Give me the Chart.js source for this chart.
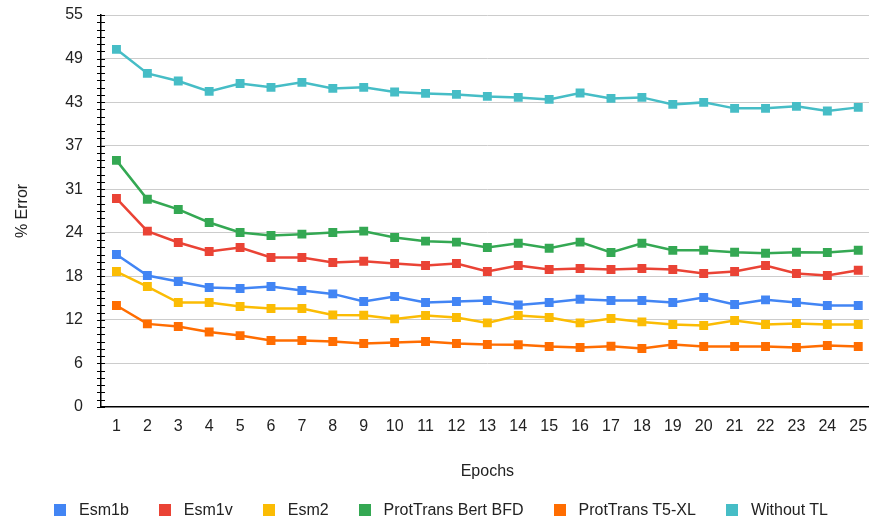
<!DOCTYPE html>
<html>
<head>
<meta charset="utf-8">
<script src="https://cdn.jsdelivr.net/npm/chart.js@4.4.1/dist/chart.umd.min.js"></script>
<style>
  html, body { margin: 0; padding: 0; background: #fff; overflow: hidden; width: 869px; height: 523px; }
  #wrap { position: relative; width: 880px; height: 523px; }
  #legend { position: absolute; left: 54px; top: 500px; display: flex; align-items: center;
            font-family: "Liberation Sans", Arial, sans-serif; font-size: 16px; line-height: 19px; color: #222; white-space: nowrap; }
  .item { display: flex; align-items: center; margin-right: 30px; }
  .sw { width: 12px; height: 12px; margin-right: 13px; }
</style>
</head>
<body>
<div id="wrap">
  <canvas id="c" width="880" height="523"></canvas>
  <div id="legend"></div>
</div>
<script>
const epochs = ['1','2','3','4','5','6','7','8','9','10','11','12','13','14','15','16','17','18','19','20','21','22','23','24','25'];
const yTickLabels = ['0','6','12','18','24','31','37','43','49','55'];
const seriesNames = ['Esm1b','Esm1v','Esm2','ProtTrans Bert BFD','ProtTrans T5-XL','Without TL'];
const seriesColors = ['#4285F4','#EA4335','#FBBC04','#34A853','#FF6D01','#46BDC6'];

const esm1b = [21.4, 18.45, 17.6, 16.76, 16.62, 16.9, 16.34, 15.87, 14.8, 15.5, 14.66, 14.8, 14.94, 14.32, 14.66, 15.12, 14.94, 14.94, 14.66, 15.36, 14.38, 15.03, 14.66, 14.24, 14.24];
const esm1v = [29.26, 24.67, 23.08, 21.82, 22.38, 20.98, 20.98, 20.27, 20.46, 20.13, 19.85, 20.13, 19.01, 19.85, 19.29, 19.43, 19.29, 19.43, 19.29, 18.73, 19.01, 19.85, 18.73, 18.45, 19.19];
const esm2 = [19.01, 16.9, 14.66, 14.66, 14.1, 13.82, 13.82, 12.92, 12.88, 12.36, 12.83, 12.55, 11.8, 12.83, 12.55, 11.8, 12.41, 11.94, 11.57, 11.43, 12.13, 11.57, 11.71, 11.57, 11.57];
const protBert = [34.6, 29.14, 27.72, 25.89, 24.48, 24.06, 24.25, 24.48, 24.67, 23.78, 23.27, 23.13, 22.38, 22.98, 22.28, 23.13, 21.68, 22.98, 21.98, 22.0, 21.72, 21.58, 21.72, 21.68, 22.0];
const protT5 = [14.24, 11.66, 11.29, 10.53, 10.02, 9.32, 9.32, 9.18, 8.9, 9.04, 9.18, 8.9, 8.76, 8.74, 8.48, 8.34, 8.52, 8.2, 8.78, 8.48, 8.48, 8.48, 8.34, 8.62, 8.48];
const withoutTL = [50.18, 46.81, 45.73, 44.28, 45.4, 44.85, 45.55, 44.7, 44.85, 44.19, 44.0, 43.86, 43.58, 43.44, 43.16, 44.05, 43.3, 43.44, 42.46, 42.74, 41.9, 41.9, 42.18, 41.52, 42.04];

const seriesData = [esm1b, esm1v, esm2, protBert, protT5, withoutTL];
const Y_MAX = 55;
const MINOR_PER_MAJOR = 6;
const N_MAJOR = yTickLabels.length - 1;

Chart.defaults.font.family = '"Liberation Sans", Arial, sans-serif';
Chart.defaults.font.size = 16;
Chart.defaults.color = '#222';

const crossTicks = {
  id: 'crossTicks',
  afterDatasetsDraw(chart) {
    const y = chart.scales.y;
    const ctx = chart.ctx;
    const x0 = chart.chartArea.left;
    ctx.save();
    ctx.strokeStyle = '#000';
    ctx.lineWidth = 1;
    y.ticks.forEach(t => {
      const py = Math.round(y.getPixelForValue(t.value)) + 0.5;
      ctx.beginPath();
      ctx.moveTo(x0 - 4, py);
      ctx.lineTo(x0 + 4, py);
      ctx.stroke();
    });
    ctx.restore();
  }
};

const datasets = seriesNames.map((name, i) => ({
  label: name,
  data: seriesData[i],
  borderColor: seriesColors[i],
  backgroundColor: seriesColors[i],
  borderWidth: 2.5,
  pointStyle: 'rect',
  pointRadius: 6.3,
  pointBorderWidth: 0,
  pointBackgroundColor: seriesColors[i],
  tension: 0
}));

new Chart(document.getElementById('c'), {
  type: 'line',
  data: { labels: epochs, datasets },
  options: {
    responsive: false,
    animation: false,
    layout: { padding: { top: 15, right: 2, left: 0, bottom: 0 } },
    plugins: { legend: { display: false }, tooltip: { enabled: false } },
    scales: {
      x: {
        offset: true,
        grid: { display: false, drawTicks: false },
        border: { color: '#000', width: 1.5 },
        ticks: { padding: 10, maxRotation: 0, autoSkip: false, color: '#222' },
        title: { display: true, text: 'Epochs', color: '#222', padding: { top: 0, bottom: 42 } },
        afterFit: s => { s.height = 116; s.paddingLeft = 0; s.paddingRight = 0; }
      },
      y: {
        min: 0, max: Y_MAX,
        afterBuildTicks: s => {
          const n = N_MAJOR * MINOR_PER_MAJOR;
          const arr = [];
          for (let i = 0; i <= n; i++) arr.push({ value: Y_MAX * i / n });
          s.ticks = arr;
        },
        grid: {
          drawTicks: false,
          color: c => (c.index % MINOR_PER_MAJOR === 0 && c.index !== 0) ? '#cccccc' : 'rgba(0,0,0,0)',
          lineWidth: 1
        },
        border: { color: '#000', width: 1.5 },
        ticks: {
          autoSkip: false, padding: 18, color: '#222',
          callback: (v, i) => (i % MINOR_PER_MAJOR === 0) ? yTickLabels[i / MINOR_PER_MAJOR] : ''
        },
        title: { display: true, text: '% Error', color: '#222', padding: { top: 13, bottom: 0 } },
        afterFit: s => { s.width = 101; s.paddingTop = 0; s.paddingBottom = 0; }
      }
    }
  },
  plugins: [crossTicks]
});

const leg = document.getElementById('legend');
seriesNames.forEach((n, i) => {
  const it = document.createElement('div'); it.className = 'item';
  const sw = document.createElement('div'); sw.className = 'sw'; sw.style.background = seriesColors[i];
  const tx = document.createElement('span'); tx.textContent = n;
  it.appendChild(sw); it.appendChild(tx); leg.appendChild(it);
});
</script>
</body>
</html>
